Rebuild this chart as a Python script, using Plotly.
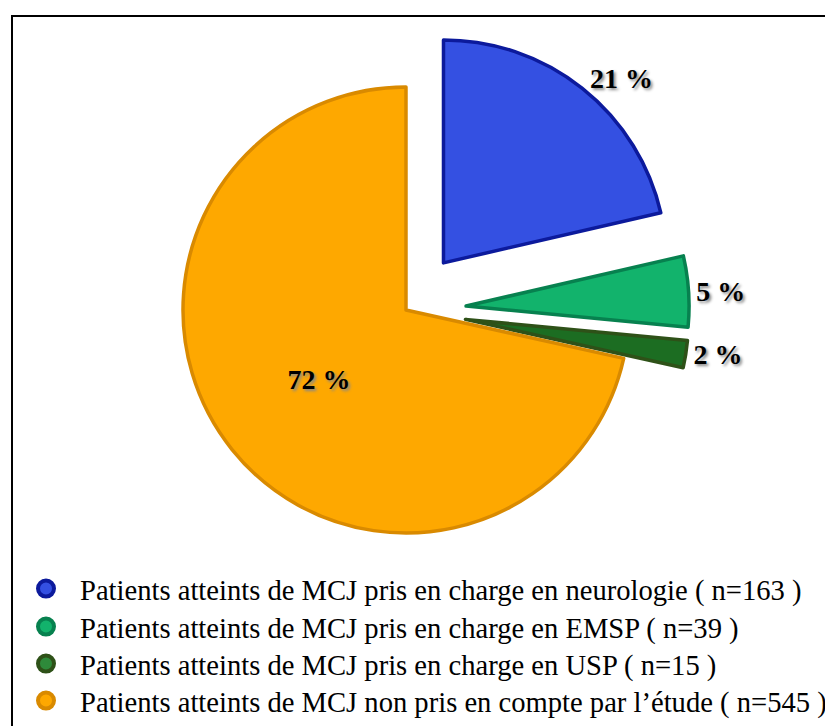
import plotly.graph_objects as go

labels = [
    "Patients atteints de MCJ pris en charge en neurologie ( n=163 )",
    "Patients atteints de MCJ pris en charge en EMSP ( n=39 )",
    "Patients atteints de MCJ pris en charge en USP ( n=15 )",
    "Patients atteints de MCJ non pris en compte par l\u2019étude ( n=545 )",
]
values = [163, 39, 15, 545]
fill_colors = ["#3450E2", "#12B36C", "#2E8A3A", "#FEA800"]
line_colors = ["#0C1A9C", "#07814F", "#2E5118", "#D98A00"]
slice_colors = ["#3450E2", "#12B36C", "#1C6D22", "#FEA800"]
pulls = [0.27, 0.27, 0.27, 0.0]
text_positions = ["outside", "outside", "outside", "inside"]

total = sum(values)
texts = [f"{round(v / total * 100)} %" for v in values]

W, H = 833, 726
cx, cy, r = 398, 302, 223
box = 2 * r * (1 + max(pulls))

fig = go.Figure()
fig.add_trace(go.Pie(
    labels=labels,
    values=values,
    text=texts,
    textinfo="text",
    textposition=text_positions,
    pull=pulls,
    sort=False,
    direction="clockwise",
    rotation=0,
    showlegend=False,
    marker=dict(colors=slice_colors, line=dict(color=line_colors, width=3.5)),
    textfont=dict(family="Liberation Serif", size=28, color="black", weight="bold",
                  shadow="2px 2px 3px #888"),
    insidetextorientation="horizontal",
    domain=dict(x=[(cx - box / 2) / W, (cx + box / 2) / W],
                y=[1 - (cy + box / 2) / H, 1 - (cy - box / 2) / H]),
    hoverinfo="label+percent",
))

legend_ids = ["legend", "legend2", "legend3", "legend4"]
legend_centers = [581, 619, 656, 693]
for lab, fc, lc, lid in zip(labels, fill_colors, line_colors, legend_ids):
    fig.add_trace(go.Scatter(
        x=[None], y=[None], mode="markers", name=lab, legend=lid,
        marker=dict(symbol="circle", size=16, color=fc, line=dict(color=lc, width=4)),
        showlegend=True,
    ))

legend_style = dict(
    x=4 / W, xanchor="left", yanchor="middle",
    font=dict(family="Liberation Serif", size=28.6, color="black"),
    bgcolor="rgba(0,0,0,0)", itemwidth=58,
)
layout_legends = {lid: dict(legend_style, y=1 - yc / H) for lid, yc in zip(legend_ids, legend_centers)}

fig.update_layout(
    width=W, height=H,
    margin=dict(l=0, r=0, t=0, b=0, autoexpand=False),
    paper_bgcolor="white", plot_bgcolor="white",
    xaxis=dict(visible=False), yaxis=dict(visible=False),
    shapes=[dict(type="rect", xref="paper", yref="paper",
                 x0=4 / W, x1=1.05, y0=-0.05, y1=1 - 8 / H,
                 line=dict(color="black", width=2), layer="below")],
    **layout_legends,
)

fig.write_html("out.html")
